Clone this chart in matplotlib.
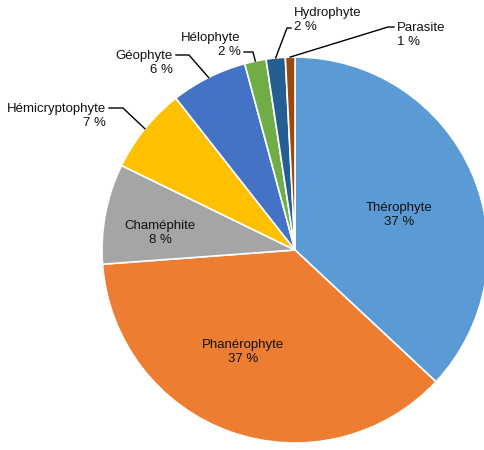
import numpy as np
import matplotlib.pyplot as plt

names = ["Thérophyte", "Phanérophyte", "Chaméphite", "Hémicryptophyte",
         "Géophyte", "Hélophyte", "Hydrophyte", "Parasite"]
values = [37.0, 36.9, 8.4, 7.2, 6.4, 1.8, 1.6, 0.8]
colors = ["#5B9BD5", "#ED7D31", "#A5A5A5", "#FFC000",
          "#4472C4", "#70AD47", "#255E91", "#9E480E"]

plt.rcParams['font.family'] = ['Liberation Sans Narrow', 'Liberation Sans', 'DejaVu Sans']

fig = plt.figure(figsize=(4.84, 4.5), dpi=100)
ax = fig.add_axes([0, 0, 1, 1])

wedges, _ = ax.pie(values, colors=colors, startangle=90, counterclock=False,
                   wedgeprops=dict(edgecolor="white", linewidth=1.2))

# pie center at px (295, 250), radius 193 px
ax.set_xlim(-295 / 193, (484 - 295) / 193)
ax.set_ylim(-(450 - 250) / 193, 250 / 193)
ax.set_aspect('auto')

total = sum(values)
labels = ["%s\n%d %%" % (n, round(v / total * 100)) for n, v in zip(names, values)]

def px(x, y):
    return ((x - 295) / 193, (250 - y) / 193)

# inside labels
inside = {0: (399, 215), 1: (243, 352), 2: (160, 233)}
for i, (x, y) in inside.items():
    ax.text(*px(x, y), labels[i], ha="center", va="center", fontsize=9.5,
            linespacing=1.2, color="#111111")

# outside labels: text anchor (px), alignment, elbow point (px)
outside = {
    3: ((106, 116), "right", (123, 108)),
    4: ((173, 63), "right", (189, 55)),
    5: ((241, 45), "right", (253, 52)),
    6: ((294, 20), "left", (287, 28)),
    7: ((397, 35), "left", (388, 27)),
}
for i, ((tx, ty), al, (ex, ey)) in outside.items():
    w = wedges[i]
    mid = np.deg2rad((w.theta1 + w.theta2) / 2)
    edge = (np.cos(mid), np.sin(mid))
    ax.text(*px(tx, ty), labels[i], ha=al, va="center", fontsize=9.5,
            linespacing=1.2, multialignment=al, color="#111111")
    elbow = px(ex, ey)
    start = px(tx + (3 if al == "right" else -3), ey)
    ax.plot([start[0], elbow[0], edge[0]], [start[1], elbow[1], edge[1]],
            color="black", linewidth=1.0)

ax.axis("off")
fig.savefig("out.png", dpi=100)
